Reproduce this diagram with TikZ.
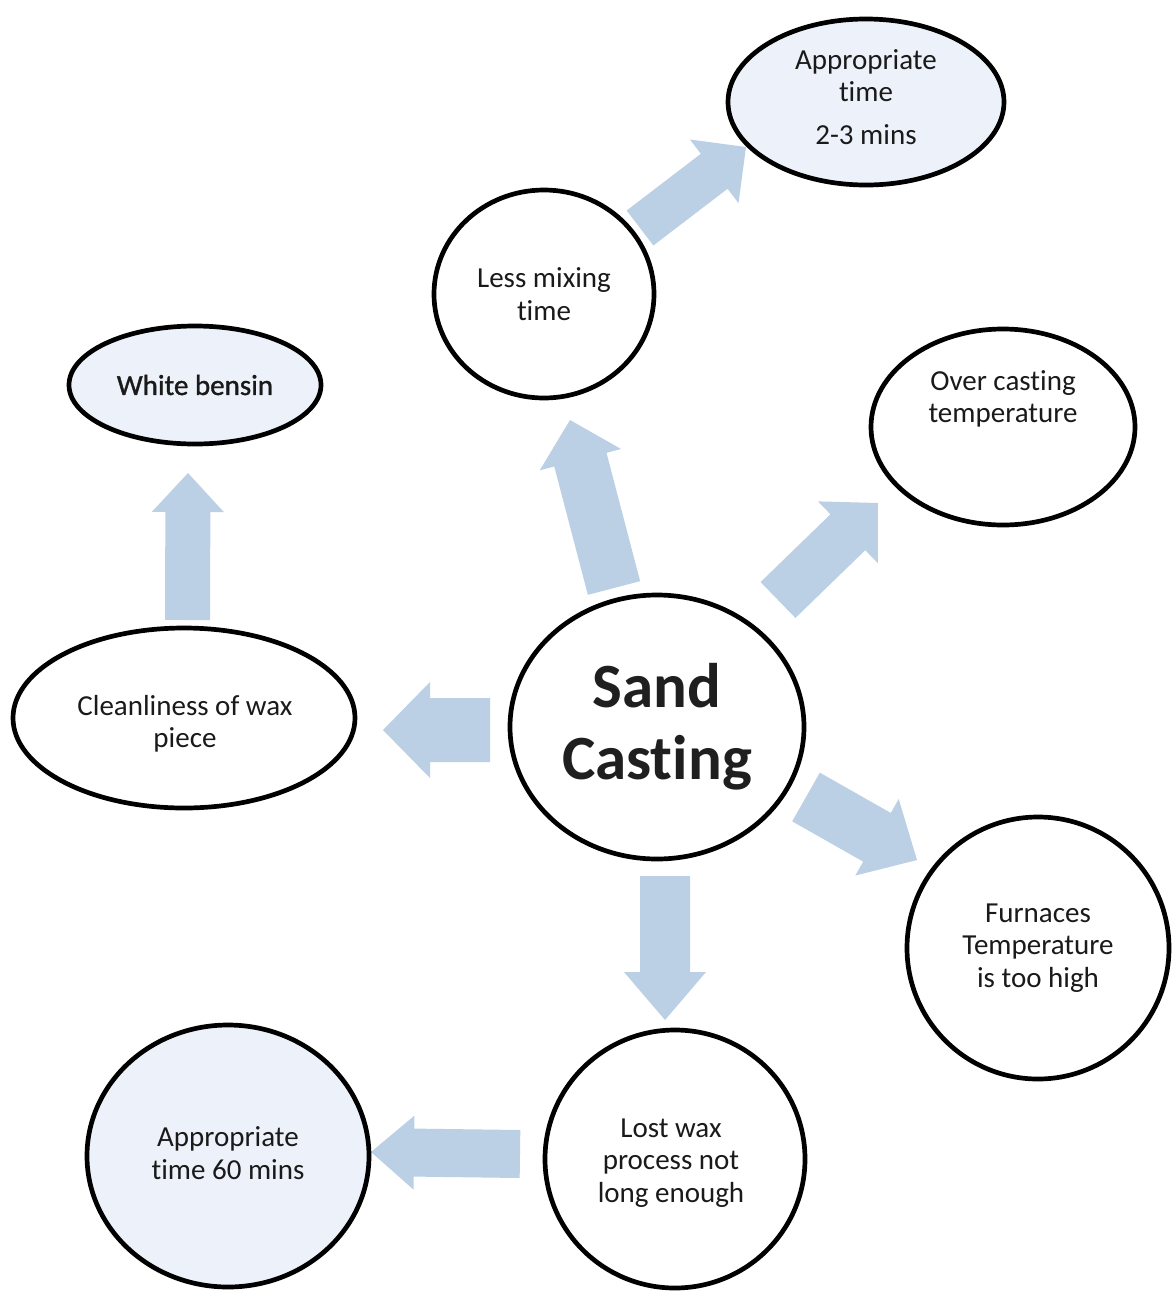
\documentclass[tikz,border=0pt]{standalone}
\usepackage{fontspec}
\setmainfont{Carlito}[Ligatures=NoCommon]
\newfontfamily\semibold{Carlito}[Ligatures=NoCommon,FakeBold=1.2]
\usetikzlibrary{shapes.geometric,calc}
\definecolor{arrowblue}{HTML}{BBD0E5}
\definecolor{lightfill}{HTML}{EDF2FA}
\definecolor{txtcol}{HTML}{1A1A1A}
\newcommand{\bigarrow}[5]{%
  \coordinate (bah) at ($(#2)!#5!(#1)$);
  \fill[arrowblue] ($(#1)!#3!90:(#2)$) -- ($(bah)!#3!90:(#2)$) -- ($(bah)!#4!90:(#2)$) -- (#2)
    -- ($(bah)!#4!-90:(#2)$) -- ($(bah)!#3!-90:(#2)$) -- ($(#1)!#3!-90:(#2)$) -- cycle;
}
\begin{document}
\begin{tikzpicture}[x=1pt,y=-1pt,
  bubble/.style={ellipse, draw=black, line width=4.7pt, inner sep=0pt, align=center,
    text=txtcol, font=\fontsize{29}{32.5}\selectfont},
  label txt/.style={align=center, text=txtcol, inner sep=0pt, font=\fontsize{29}{32.5}\selectfont}]
\useasboundingbox (0,0) rectangle (1172,1291);
\fill[white] (0,0) rectangle (1172,1291);

% arrow end points
\coordinate (a1s) at (640,228);  \coordinate (a1e) at (746,147);
\coordinate (a2s) at (614,588);  \coordinate (a2e) at (570,420);
\coordinate (a3s) at (778,600);  \coordinate (a3e) at (878,503);
\coordinate (a4s) at (490,730);  \coordinate (a4e) at (383,730);
\coordinate (a5s) at (187.5,620);\coordinate (a5e) at (188,473);
\coordinate (a6s) at (806,797);  \coordinate (a6e) at (917,860);
\coordinate (a7s) at (665,876);  \coordinate (a7e) at (665,1020);
\coordinate (a8s) at (520,1154); \coordinate (a8e) at (371,1152);

\bigarrow{a1s}{a1e}{22pt}{40pt}{40pt}
\bigarrow{a2s}{a2e}{27pt}{42pt}{41pt}
\bigarrow{a3s}{a3e}{25pt}{43pt}{42pt}
\bigarrow{a4s}{a4e}{32pt}{48pt}{47pt}
\bigarrow{a5s}{a5e}{22.5pt}{36pt}{39pt}
\bigarrow{a6s}{a6e}{28pt}{44pt}{46pt}
\bigarrow{a7s}{a7e}{25pt}{41pt}{48pt}
\bigarrow{a8s}{a8e}{24pt}{37pt}{43pt}

% nodes
\node[bubble, fill=lightfill, minimum width=276pt, minimum height=166pt] (app23) at (866,102) {};
\node[label txt] (app23txt) at (866,97) {Appropriate\\time\\[10pt]2-3 mins};

\node[bubble, fill=white, minimum width=220pt, minimum height=208pt] (mix) at (544,294) {Less mixing\\time};

\node[bubble, fill=white, minimum width=264pt, minimum height=196pt] (over) at (1003,427) {};
\node[label txt] (overtxt) at (1003,399) {Over casting\\temperature};

\node[bubble, fill=lightfill, minimum width=252pt, minimum height=118pt, font=\fontsize{29}{32.5}\semibold] (white) at (195,385) {White bensin};

\node[bubble, fill=white, minimum width=342pt, minimum height=180pt] (clean) at (184,718) {};
\node[label txt] (cleantxt) at (185,724) {Cleanliness of wax\\piece};

\node[bubble, fill=white, minimum width=294pt, minimum height=264pt,
  font=\fontsize{63}{72}\selectfont\bfseries, text=black!88] (sand) at (657,727) {Sand\\Casting};

\node[bubble, fill=white, minimum width=262pt, minimum height=262pt] (furn) at (1038,948) {Furnaces\\Temperature\\is too high};

\node[bubble, fill=white, minimum width=260pt, minimum height=258pt] (lost) at (675,1159) {};
\node[label txt] (losttxt) at (671,1163) {Lost wax\\process not\\long enough};

\node[bubble, fill=lightfill, minimum width=282pt, minimum height=262pt] (app60) at (228,1156) {};
\node[label txt] (app60txt) at (228,1153) {Appropriate\\time 60 mins};
\end{tikzpicture}
\end{document}
